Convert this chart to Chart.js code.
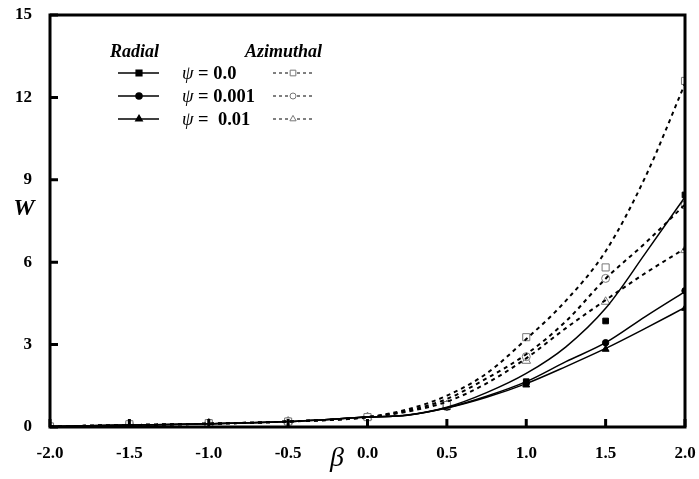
<!DOCTYPE html>
<html>
<head>
<meta charset="utf-8">
<script src="https://cdn.jsdelivr.net/npm/chart.js@4/dist/chart.umd.min.js"></script>
<style>
  body { margin: 0; background: #fff; }
  #wrap { width: 699px; height: 479px; }
</style>
</head>
<body>
<div id="wrap"><canvas id="chart"></canvas></div>
<script>
'use strict';

// beta values where the points were taken
const betas = [-2.0, -1.5, -1.0, -0.5, 0.0, 0.5, 1.0, 1.5, 2.0];
const xTicks = [-2.0, -1.5, -1.0, -0.5, 0.0, 0.5, 1.0, 1.5, 2.0];
const yTicks = [0, 3, 6, 9, 12, 15];

// markers
const radial0 = [0.02, 0.1, 0.14, 0.2, 0.35, 0.73, 1.65, 3.86, 8.45];
const radial1 = [0.02, 0.1, 0.14, 0.2, 0.35, 0.73, 1.6, 3.07, 4.96];
const radial2 = [0.02, 0.1, 0.14, 0.2, 0.35, 0.72, 1.53, 2.83, 4.32];
const azim0 = [0.02, 0.1, 0.14, 0.2, 0.36, 0.8, 3.27, 5.81, 12.6];
const azim1 = [0.02, 0.1, 0.14, 0.2, 0.36, 0.8, 2.56, 5.41, 8.08];
const azim2 = [0.02, 0.1, 0.14, 0.2, 0.36, 0.8, 2.41, 4.56, 6.44];

// fitted curves
const fitBetas = [-2.0, -1.5, -1.0, -0.5, 0.0, 0.25, 0.5, 0.75, 1.0, 1.25, 1.5, 1.75, 2.0];
const radialFit0 = [0.02, 0.07, 0.12, 0.2, 0.36, 0.44, 0.72, 1.25, 1.95, 2.92, 4.32, 6.32, 8.38];
const radialFit1 = [0.02, 0.07, 0.12, 0.2, 0.36, 0.43, 0.7, 1.12, 1.65, 2.38, 3.07, 4.02, 4.93];
const radialFit2 = [0.02, 0.07, 0.12, 0.2, 0.36, 0.43, 0.69, 1.08, 1.58, 2.2, 2.86, 3.59, 4.35];
const azimFit0 = [0.02, 0.07, 0.12, 0.2, 0.36, 0.64, 1.14, 1.95, 3.2, 4.6, 6.4, 9.1, 12.5];
const azimFit1 = [0.02, 0.07, 0.12, 0.2, 0.36, 0.59, 1.02, 1.77, 2.65, 3.85, 5.4, 6.7, 8.1];
const azimFit2 = [0.02, 0.07, 0.12, 0.2, 0.36, 0.56, 0.92, 1.59, 2.5, 3.6, 4.62, 5.6, 6.5];

const legendLabels = ['\u03C8 = 0.0', '\u03C8 = 0.001', '\u03C8 =  0.01'];
const legendShapes = ['rect', 'circle', 'triangle'];
const legendSizes = [4, 3, 3.6];

const serif = "'Liberation Serif', 'Times New Roman', serif";

function toPoints(xs, ys) {
  return xs.map((b, i) => ({ x: b, y: ys[i] }));
}

function fitLine(ys, dashed) {
  return {
    type: 'line',
    data: toPoints(fitBetas, ys),
    borderColor: '#000',
    borderWidth: dashed ? 2 : 1.5,
    borderDash: dashed ? [4, 4] : [],
    pointRadius: 0,
    cubicInterpolationMode: 'monotone',
    fill: false,
  };
}

function markers(ys, shape, filled) {
  return {
    type: 'scatter',
    data: toPoints(betas, ys),
    pointStyle: shape,
    pointRadius: filled ? (shape === 'circle' ? 3.2 : 4) : (shape === 'circle' ? 4 : 5),
    backgroundColor: filled ? '#000' : '#fff',
    borderColor: filled ? '#000' : '#777',
    borderWidth: 1,
    showLine: false,
  };
}

// frame, inward ticks, axis titles and the hand-made legend
const extras = {
  id: 'extras',
  afterDraw(chart) {
    const ctx = chart.ctx;
    const a = chart.chartArea;
    const xs = chart.scales.x;
    const ys = chart.scales.y;
    ctx.save();
    ctx.strokeStyle = '#000';
    ctx.lineWidth = 3;
    ctx.strokeRect(a.left, a.top, a.right - a.left, a.bottom - a.top);

    ctx.beginPath();
    xTicks.forEach(v => {
      const px = xs.getPixelForValue(v);
      ctx.moveTo(px, a.bottom);
      ctx.lineTo(px, a.bottom - 8);
    });
    yTicks.forEach(v => {
      const py = ys.getPixelForValue(v);
      ctx.moveTo(a.left, py);
      ctx.lineTo(a.left + 8, py);
    });
    ctx.stroke();

    ctx.fillStyle = '#000';
    ctx.textAlign = 'center';
    ctx.textBaseline = 'alphabetic';
    ctx.font = 'bold italic 24px ' + serif;
    ctx.fillText('W', 24, 215);
    ctx.font = 'italic 28px ' + serif;
    ctx.fillText('\u03B2', 337, 466);

    // legend
    const lx = a.left + 60;
    ctx.font = 'bold italic 18px ' + serif;
    ctx.textAlign = 'left';
    ctx.fillText('Radial', lx, 57);
    ctx.fillText('Azimuthal', lx + 135, 57);

    legendLabels.forEach((lab, i) => {
      const y = 73 + i * 23;
      const opts = { pointStyle: legendShapes[i], radius: legendSizes[i], borderWidth: 1 };
      ctx.setLineDash([]);
      ctx.lineWidth = 1.5;
      ctx.strokeStyle = '#000';
      ctx.beginPath();
      ctx.moveTo(lx + 8, y);
      ctx.lineTo(lx + 49, y);
      ctx.stroke();
      ctx.fillStyle = '#000';
      Chart.helpers.drawPoint(ctx, opts, lx + 29, y);

      ctx.setLineDash([3, 3]);
      ctx.lineWidth = 1;
      ctx.beginPath();
      ctx.moveTo(lx + 163, y);
      ctx.lineTo(lx + 203, y);
      ctx.stroke();
      ctx.setLineDash([]);
      ctx.fillStyle = '#fff';
      ctx.strokeStyle = '#777';
      Chart.helpers.drawPoint(ctx, opts, lx + 183, y);

      ctx.fillStyle = '#000';
      const psi = '\u03C8';
      ctx.font = 'italic 18.5px ' + serif;
      ctx.fillText(psi, lx + 72, y + 6);
      const w = ctx.measureText(psi).width;
      ctx.font = 'bold 18.5px ' + serif;
      ctx.fillText(lab.slice(1), lx + 72 + w, y + 6);
    });
    ctx.restore();
  }
};

const ctx = document.getElementById('chart').getContext('2d');
const chart = new Chart(ctx, {
  data: {
    datasets: [
      fitLine(radialFit0, false),
      fitLine(radialFit1, false),
      fitLine(radialFit2, false),
      fitLine(azimFit0, true),
      fitLine(azimFit1, true),
      fitLine(azimFit2, true),
      markers(azim0, 'rect', false),
      markers(azim1, 'circle', false),
      markers(azim2, 'triangle', false),
      markers(radial0, 'rect', true),
      markers(radial1, 'circle', true),
      markers(radial2, 'triangle', true),
    ]
  },
  options: {
    responsive: true,
    maintainAspectRatio: false,
    animation: false,
    layout: { padding: { top: 15, right: 14, left: 0, bottom: 0 } },
    plugins: { legend: { display: false }, tooltip: { enabled: false } },
    scales: {
      x: {
        type: 'linear',
        min: -2,
        max: 2,
        afterFit(scale) {
          scale.height = 52;
          scale.paddingLeft = 0;
          scale.paddingRight = 0;
        },
        afterBuildTicks(scale) { scale.ticks = xTicks.map(v => ({ value: v })); },
        grid: { display: false },
        border: { display: false },
        ticks: {
          padding: 8,
          color: '#000',
          font: { family: serif, size: 17, weight: 'bold' },
          callback: v => v.toFixed(1),
        }
      },
      y: {
        type: 'linear',
        min: 0,
        max: 15,
        afterFit(scale) {
          scale.width = 50;
          scale.paddingTop = 0;
          scale.paddingBottom = 0;
        },
        afterBuildTicks(scale) { scale.ticks = yTicks.map(v => ({ value: v })); },
        grid: { display: false },
        border: { display: false },
        ticks: {
          padding: 10,
          color: '#000',
          font: { family: serif, size: 17, weight: 'bold' },
        }
      }
    }
  },
  plugins: [extras]
});
</script>
</body>
</html>
